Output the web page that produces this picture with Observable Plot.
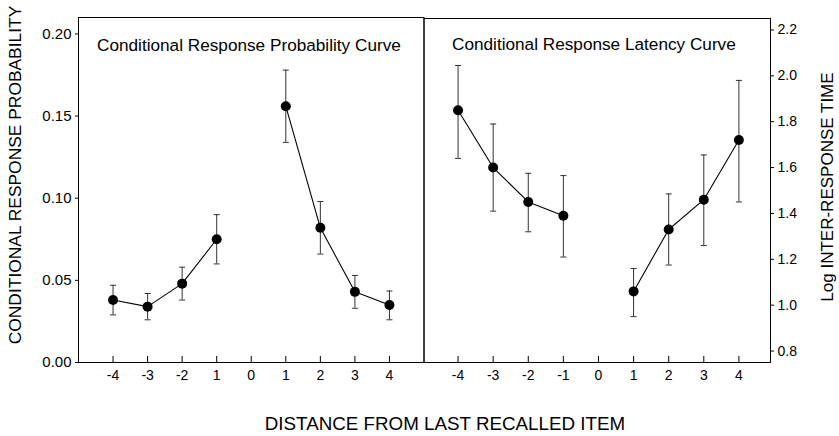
<!DOCTYPE html>
<html>
<head>
<meta charset="utf-8">
<script src="https://cdn.jsdelivr.net/npm/d3@7"></script>
<script src="https://cdn.jsdelivr.net/npm/@observablehq/plot@0.6"></script>
<style>
  body { margin: 0; background: #fff; }
  #chart { position: relative; width: 839px; height: 436px; font-family: "Liberation Sans", Arial, sans-serif; }
  #chart svg { position: absolute; top: 0; }
</style>
</head>
<body>
<div id="chart"></div>
<script>
// Lag relative to the last recalled item (0 is the item itself, so it has no value)
const lags = [-4, -3, -2, -1, 1, 2, 3, 4];

// Conditional response probability: mean and error-bar ends
const crpMean = [0.038, 0.034, 0.048, 0.075, 0.156, 0.082, 0.043, 0.035];
const crpLow  = [0.029, 0.026, 0.038, 0.060, 0.134, 0.066, 0.033, 0.026];
const crpHigh = [0.047, 0.042, 0.058, 0.090, 0.178, 0.098, 0.053, 0.0435];

// Log inter-response time: mean and error-bar ends
const latMean = [1.85, 1.60, 1.45, 1.39, 1.06, 1.33, 1.46, 1.72];
const latLow  = [1.64, 1.41, 1.32, 1.21, 0.95, 1.175, 1.26, 1.45];
const latHigh = [2.045, 1.79, 1.575, 1.565, 1.16, 1.485, 1.655, 1.98];

// Axis ticks and their labels
const xTicks = [-4, -3, -2, -1, 0, 1, 2, 3, 4];
const crpXLabels = ["-4", "-3", "-2", "1", "0", "1", "2", "3", "4"];
const latXLabels = ["-4", "-3", "-2", "-1", "0", "1", "2", "3", "4"];
const crpYTicks = [0, 0.05, 0.10, 0.15, 0.20];
const latYTicks = [0.8, 1.0, 1.2, 1.4, 1.6, 1.8, 2.0, 2.2];

const panelTitles = ["Conditional Response Probability Curve", "Conditional Response Latency Curve"];
const yTitles = ["CONDITIONAL RESPONSE PROBABILITY", "Log INTER-RESPONSE TIME"];
const xTitle = "DISTANCE FROM LAST RECALLED ITEM";

const rows = (mean, low, high) => lags.map((lag, i) => ({
  lag, mean: mean[i], low: low[i], high: high[i], side: lag < 0 ? "before" : "after"
}));
const crpRows = rows(crpMean, crpLow, crpHigh);
const latRows = rows(latMean, latLow, latHigh);

// Horizontal cap for the error bars, width set by r
const cap = {
  draw(context, size) {
    const w = Math.sqrt(size / Math.PI);
    context.moveTo(-w, 0);
    context.lineTo(w, 0);
  }
};

const font = '"Liberation Sans", Arial, sans-serif';
const style = { fontFamily: font, fontSize: "14px", color: "black", background: "transparent", overflow: "visible" };

function seriesMarks(data) {
  return [
    Plot.ruleX(data, { x: "lag", y1: "low", y2: "high", stroke: "#333", strokeWidth: 1 }),
    Plot.dot(data, { x: "lag", y: "high", symbol: cap, r: 3, stroke: "#333", fill: "none", strokeWidth: 1 }),
    Plot.dot(data, { x: "lag", y: "low", symbol: cap, r: 3, stroke: "#333", fill: "none", strokeWidth: 1 }),
    Plot.line(data, { x: "lag", y: "mean", z: "side", stroke: "black", strokeWidth: 1.1 }),
    Plot.dot(data, { x: "lag", y: "mean", r: 5, fill: "black", stroke: "none" })
  ];
}

const crpPlot = Plot.plot({
  width: 424, height: 436,
  marginLeft: 78, marginRight: 0.5, marginTop: 17, marginBottom: 74,
  style,
  x: { domain: [-5, 5] },
  y: { domain: [0, 0.21] },
  marks: [
    Plot.frame({ stroke: "black", strokeWidth: 1 }),
    Plot.axisY({ ticks: crpYTicks, tickFormat: d3.format(".2f"), tickSize: 3, tickPadding: 4, fontSize: 15, label: null }),
    Plot.axisX({ ticks: xTicks, tickFormat: d => crpXLabels[xTicks.indexOf(d)], tickSize: -6, tickPadding: 14, label: null }),
    ...seriesMarks(crpRows),
    Plot.text([panelTitles[0]], { frameAnchor: "top-left", dx: 18.5, dy: 33.5, textAnchor: "start", lineAnchor: "bottom", fontSize: 17.2 })
  ]
});

const latPlot = Plot.plot({
  width: 416, height: 436,
  marginLeft: 0.5, marginRight: 69, marginTop: 18, marginBottom: 74,
  style,
  x: { domain: [-4.97, 4.9] },
  y: { domain: [0.75, 2.25] },
  marks: [
    Plot.frame({ stroke: "black", strokeWidth: 1 }),
    Plot.axisY({ anchor: "right", ticks: latYTicks, tickFormat: d3.format(".1f"), tickSize: 3, tickPadding: 4, label: null }),
    Plot.axisX({ ticks: xTicks, tickFormat: d => latXLabels[xTicks.indexOf(d)], tickSize: -6, tickPadding: 14, label: null }),
    ...seriesMarks(latRows),
    Plot.text([panelTitles[1]], { frameAnchor: "top-left", dx: 28, dy: 31, textAnchor: "start", lineAnchor: "bottom", fontSize: 17.2 })
  ]
});

const chart = document.getElementById("chart");
crpPlot.style.left = "0px";
latPlot.style.left = "423px";
chart.appendChild(crpPlot);
chart.appendChild(latPlot);

// Shared axis titles drawn on an overlay
const overlay = d3.create("svg")
  .attr("width", 839).attr("height", 436)
  .style("left", "0px").style("pointer-events", "none")
  .attr("font-family", font).attr("fill", "black");

overlay.append("text")
  .attr("transform", "translate(21,175) rotate(-90)")
  .attr("text-anchor", "middle").attr("font-size", 17.4)
  .text(yTitles[0]);

overlay.append("text")
  .attr("transform", "translate(832.5,187) rotate(-90)")
  .attr("text-anchor", "middle").attr("font-size", 17)
  .text(yTitles[1]);

overlay.append("text")
  .attr("x", 445).attr("y", 430)
  .attr("text-anchor", "middle").attr("font-size", 18.8)
  .text(xTitle);

chart.appendChild(overlay.node());
</script>
</body>
</html>
